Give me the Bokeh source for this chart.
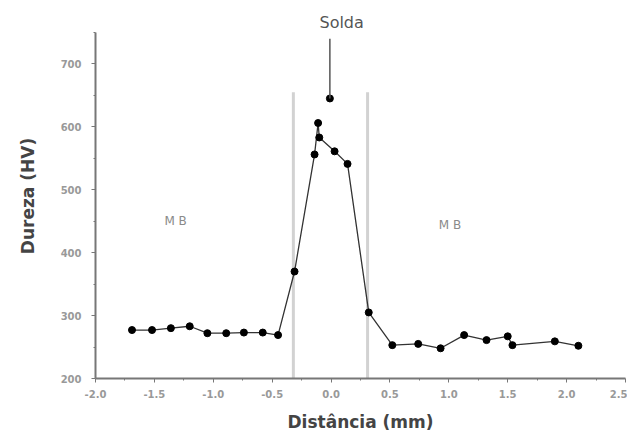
from bokeh.plotting import figure
from bokeh.models import Range1d, Label, FixedTicker
from bokeh.embed import file_html
from bokeh.resources import INLINE

# Hardness profile across the weld
dist = [-1.69, -1.52, -1.36, -1.20, -1.05, -0.89, -0.74, -0.58, -0.45, -0.31,
        -0.14, -0.11, -0.10, 0.03, 0.14, 0.32, 0.52, 0.74, 0.93, 1.13,
        1.32, 1.50, 1.54, 1.90, 2.10]
hv = [277, 277, 280, 283, 272, 272, 273, 273, 269, 370,
      556, 606, 583, 561, 541, 305, 253, 255, 248, 269,
      261, 267, 253, 259, 252]
# isolated weld-centre point marked by the arrow
weld_x = [-0.01]
weld_hv = [645]
# fusion-zone boundaries
zone_x = [-0.32, 0.31]
x_ticks = [-2.0, -1.5, -1.0, -0.5, 0.0, 0.5, 1.0, 1.5, 2.0, 2.5]
y_ticks = [200, 300, 400, 500, 600, 700]

p = figure(width=627, height=434, output_backend="svg", toolbar_location=None,
           x_range=Range1d(-2.0, 2.5), y_range=Range1d(200, 780),
           min_border_left=95, min_border_right=2, min_border_top=13,
           min_border_bottom=47)
p.outline_line_color = None
p.xgrid.visible = False
p.ygrid.visible = False
p.background_fill_color = "white"

# zone boundary lines
p.segment(x0=zone_x, y0=[200, 200], x1=zone_x, y1=[655, 655],
          line_color="#d2d2d2", line_width=3)

p.line(dist, hv, line_color="#333333", line_width=1.3)
p.scatter(dist, hv, size=7, fill_color="black", line_color="black")
p.scatter(weld_x, weld_hv, size=7, fill_color="black", line_color="black")

# arrow from the "Solda" label
p.segment(x0=weld_x, y0=[740], x1=weld_x, y1=weld_hv, line_color="#555555", line_width=1.5)

p.add_layout(Label(x=0.09, y=766, text="Solda", text_align="center", text_baseline="middle",
                   text_font="DejaVu Sans", text_font_size="16px", text_color="#555555"))
p.add_layout(Label(x=-1.32, y=450, text="M B", text_align="center", text_baseline="middle",
                   text_font="DejaVu Sans", text_font_size="12px", text_color="#8a8a8a"))
p.add_layout(Label(x=1.01, y=444, text="M B", text_align="center", text_baseline="middle",
                   text_font="DejaVu Sans", text_font_size="12px", text_color="#8a8a8a"))

for ax in (p.xaxis[0], p.yaxis[0]):
    ax.axis_line_color = "#777777"
    ax.axis_line_width = 2
    ax.major_tick_line_color = "#777777"
    ax.minor_tick_line_color = "#777777"
    ax.major_tick_out = 4
    ax.major_tick_in = 0
    ax.minor_tick_out = 2
    ax.minor_tick_in = 0
    ax.major_label_text_color = "#999999"
    ax.major_label_text_font = "DejaVu Sans"
    ax.major_label_text_font_style = "bold"
    ax.major_label_text_font_size = "10px"
    ax.axis_label_text_font = "DejaVu Sans"
    ax.axis_label_text_font_style = "bold"
    ax.axis_label_text_color = "#444444"
    ax.axis_label_text_font_size = "17px"

p.yaxis.bounds = (200, 750)
p.xaxis.ticker = FixedTicker(ticks=x_ticks, minor_ticks=[-1.75, -1.25, -0.75, -0.25, 0.25, 0.75, 1.25, 1.75, 2.25])
p.yaxis.ticker = FixedTicker(ticks=y_ticks, minor_ticks=[250, 350, 450, 550, 650, 750])
p.xaxis.major_label_overrides = {t: f"{t:.1f}" for t in x_ticks}
p.xaxis.axis_label = "Distância (mm)"
p.yaxis.axis_label = "Dureza (HV)"
p.xaxis.major_label_standoff = 7
p.yaxis.major_label_standoff = 10
p.xaxis.axis_label_standoff = 11
p.yaxis.axis_label_standoff = 20

open("out.html", "w").write(file_html(p, INLINE))
